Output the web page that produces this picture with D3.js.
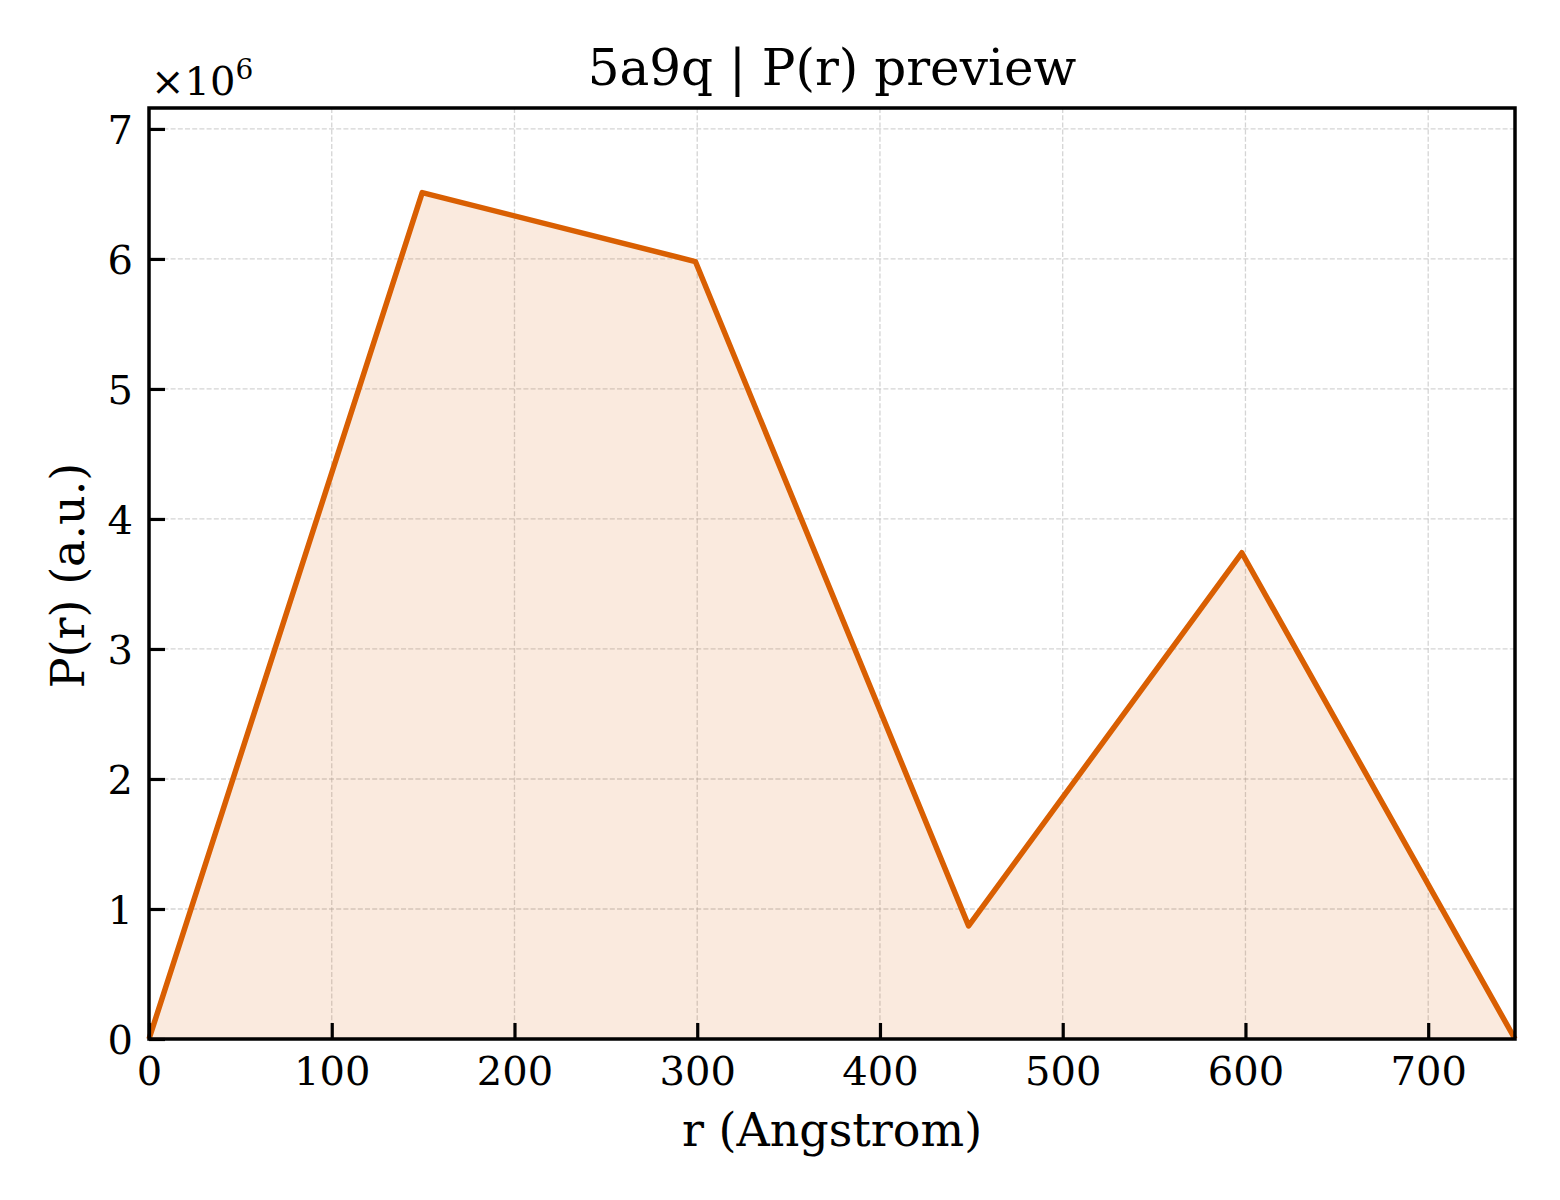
<!DOCTYPE html>
<html>
<head>
<meta charset="utf-8">
<script src="https://cdn.jsdelivr.net/npm/d3@7"></script>
<style>
body { margin: 0; background: #fff; }
svg { display: block; }
text { font-family: "DejaVu Serif", serif; fill: #000; }
</style>
</head>
<body>
<svg id="chart" width="1560" height="1200"></svg>
<script>
const rValues = [0, 149.5, 299, 448.5, 598, 747.5];
const prValues = [0, 6.51e6, 5.98e6, 0.87e6, 3.74e6, 0];
const xTicks = [0, 100, 200, 300, 400, 500, 600, 700];
const yTicks = [0, 1, 2, 3, 4, 5, 6, 7];
const title = "5a9q | P(r) preview";
const xLabel = "r (Angstrom)";
const yLabel = "P(r) (a.u.)";

const data = rValues.map((r, i) => ({ r, p: prValues[i] / 1e6 }));

const svg = d3.select("#chart");
const m = { left: 149, right: 1515, top: 108, bottom: 1039 };

const x = d3.scaleLinear().domain([0, 747.5]).range([m.left, m.right]);
const y = d3.scaleLinear().domain([0, 7.161]).range([m.bottom, m.top]);

const lineColor = "#d95f02";

// grid
const grid = svg.append("g");
grid.selectAll(".gx").data(xTicks).enter().append("line")
  .attr("x1", d => x(d)).attr("x2", d => x(d))
  .attr("y1", m.top).attr("y2", m.bottom)
  .attr("stroke", "#b0b0b0").attr("stroke-opacity", 0.55)
  .attr("stroke-width", 1.3).attr("stroke-dasharray", "5,2.2");
grid.selectAll(".gy").data(yTicks).enter().append("line")
  .attr("x1", m.left).attr("x2", m.right)
  .attr("y1", d => y(d)).attr("y2", d => y(d))
  .attr("stroke", "#b0b0b0").attr("stroke-opacity", 0.55)
  .attr("stroke-width", 1.3).attr("stroke-dasharray", "5,2.2");

// area
svg.append("path").datum(data)
  .attr("d", d3.area().x(d => x(d.r)).y0(y(0)).y1(d => y(d.p)))
  .attr("fill", lineColor).attr("fill-opacity", 0.13);

// line
svg.append("path").datum(data)
  .attr("d", d3.line().x(d => x(d.r)).y(d => y(d.p)))
  .attr("fill", "none").attr("stroke", lineColor)
  .attr("stroke-width", 5.5).attr("stroke-linejoin", "round");

// axes
const xAxis = d3.axisBottom(x).tickValues(xTicks).tickSize(-16).tickPadding(22).tickFormat(d3.format("d"));
const yAxis = d3.axisLeft(y).tickValues(yTicks).tickSize(-16).tickPadding(22).tickFormat(d3.format("d"));

const gx = svg.append("g").attr("transform", `translate(0,${m.bottom})`).call(xAxis);
const gy = svg.append("g").attr("transform", `translate(${m.left},0)`).call(yAxis);
[gx, gy].forEach(g => {
  g.select(".domain").remove();
  g.selectAll(".tick line").attr("stroke", "#000").attr("stroke-width", 3.2);
  g.selectAll(".tick text").style("font-family", "DejaVu Serif").style("font-size", "40px").attr("fill", "#000");
});
gx.selectAll(".tick text").attr("dy", "0.71em").attr("y", 18);
gy.selectAll(".tick text").attr("x", -16).attr("dy", "0.36em");

// frame
svg.append("rect").attr("x", m.left).attr("y", m.top)
  .attr("width", m.right - m.left).attr("height", m.bottom - m.top)
  .attr("fill", "none").attr("stroke", "#000").attr("stroke-width", 3.5);

// title
svg.append("text").attr("x", (m.left + m.right) / 2).attr("y", 85)
  .attr("text-anchor", "middle").style("font-size", "50px").text(title);

// offset text
const off = svg.append("text").attr("x", 151).attr("y", 95).style("font-size", "40px");
off.append("tspan").text("×10");
off.append("tspan").attr("dy", -16).style("font-size", "28px").text("6");

// axis labels
svg.append("text").attr("x", (m.left + m.right) / 2).attr("y", 1146)
  .attr("text-anchor", "middle").style("font-size", "46px").text(xLabel);
svg.append("text").attr("transform", `translate(84,${(m.top + m.bottom) / 2 + 2}) rotate(-90)`)
  .attr("text-anchor", "middle").style("font-size", "46px").text(yLabel);
</script>
</body>
</html>
